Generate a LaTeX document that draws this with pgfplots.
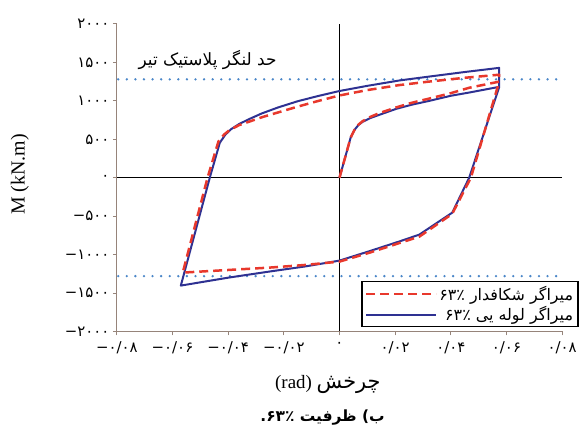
\documentclass[border=0pt]{standalone}
\usepackage{fontspec}
\usepackage{pgfplots}
\pgfplotsset{compat=1.18}
\setmainfont{Liberation Serif}
\newfontfamily\persfont[Script=Arabic]{DejaVu Sans}
\newfontfamily\digfont{DejaVu Sans}
\TeXXeTstate=1
\definecolor{bluel}{RGB}{46,49,146}
\definecolor{redl}{RGB}{232,56,44}
\definecolor{dotb}{RGB}{74,134,200}
\definecolor{spine}{RGB}{150,132,122}
\begin{document}
\begin{tikzpicture}
\begin{axis}[
  scale only axis, width=446bp, height=308bp,
  xmin=-0.08, xmax=0.08, ymin=-2000, ymax=2000,
  scaled x ticks=false, scaled y ticks=false,
  axis lines*=left,
  axis line style={spine, line width=1bp},
  tick style={spine, line width=1bp},
  tick align=outside, major tick length=4bp,
  xtick={-0.08,-0.06,-0.04,-0.02,0,0.02,0.04,0.06,0.08},
  xticklabels={−۰/۰۸,−۰/۰۶,−۰/۰۴,−۰/۰۲,۰,۰/۰۲,۰/۰۴,۰/۰۶,۰/۰۸},
  ytick={-2000,-1500,-1000,-500,0,500,1000,1500,2000},
  yticklabels={−۲۰۰۰,−۱۵۰۰,−۱۰۰۰,−۵۰۰,۰,۵۰۰,۱۰۰۰,۱۵۰۰,۲۰۰۰},
  xticklabel style={font=\digfont\fontsize{15}{17}\selectfont, yshift=-3bp},
  yticklabel style={font=\digfont\fontsize{15}{17}\selectfont},
  xlabel={(rad) {\persfont\fontsize{21}{23}\selectfont چرخش}},
  xlabel style={font=\fontsize{19}{21}\selectfont, at={(axis description cs:0.474,-0.172)}, anchor=center},
  ylabel={M (kN.m)},
  ylabel style={font=\fontsize{20}{22}\selectfont, at={(axis description cs:-0.2175,0.51)}, anchor=center},
  clip=false,
  reverse legend,
  legend style={at={(axis description cs:1.037,0.013)}, anchor=south east,
    draw=black, line width=1.2bp, fill=white, inner xsep=3bp, inner ysep=2.5bp,
    font=\persfont\fontsize{16}{18}\selectfont, row sep=1bp},
  legend cell align=right,
  legend image code/.code={\draw[#1] (0bp,0bp) -- (70bp,0bp);},
]
% zero lines
\addplot[black, line width=1.5bp, forget plot] coordinates {(-0.08,0) (0.08,0)};
\addplot[black, line width=1.5bp, forget plot] coordinates {(0,-2000) (0,2000)};
% plastic moment limits
\addplot[dotb, line width=2.6bp, line cap=round, dash pattern=on 0bp off 8.6bp, forget plot] coordinates {(-0.0795,1280) (0.078,1280)};
\addplot[dotb, line width=2.6bp, line cap=round, dash pattern=on 0bp off 8.6bp, forget plot] coordinates {(-0.0795,-1280) (0.078,-1280)};
% blue: pipe damper
\addplot[bluel, line width=2bp, line join=round] coordinates {
(0,0) (0.0018,234) (0.0040,520) (0.0054,623) (0.0068,685) (0.0083,727)
(0.0110,775) (0.0143,818) (0.0204,896) (0.0260,950) (0.0323,1000)
(0.0400,1066) (0.0466,1108) (0.0574,1182)
(0.0466,0) (0.0405,-455) (0.0287,-740) (0.0215,-829) (0.0108,-955) (0,-1078)
(-0.0125,-1155) (-0.0251,-1220) (-0.040,-1300) (-0.057,-1403)
(-0.0466,0) (-0.0430,455) (-0.0410,560) (-0.0390,630) (-0.0360,700)
(-0.0320,770) (-0.0280,835) (-0.0220,915) (-0.0150,995) (-0.0080,1060)
(0,1128) (0.0100,1195) (0.0215,1265) (0.0323,1316)
(0.0450,1375) (0.0574,1429) (0.0574,1182)
};
\addlegendentry{\beginR میراگر لوله یی ۶۳٪\endR}
% red: slit damper
\addplot[redl, line width=2.5bp, dash pattern=on 9bp off 5bp, line join=round] coordinates {
(0,0) (0.0018,234) (0.0040,520) (0.0054,623) (0.0068,690) (0.0083,735)
(0.0110,790) (0.0143,840) (0.0204,915) (0.0260,975) (0.0323,1030)
(0.0400,1100) (0.0466,1170) (0.0574,1250)
(0.0472,0) (0.0405,-470) (0.0287,-766) (0.0215,-850) (0.0108,-975) (0,-1091)
(-0.0125,-1135) (-0.0251,-1169) (-0.040,-1200) (-0.0563,-1234)
(-0.0474,0) (-0.0435,470) (-0.0415,560) (-0.0395,620) (-0.0360,685)
(-0.0320,735) (-0.0276,790) (-0.0220,850) (-0.0150,925) (-0.0080,995)
(0,1070) (0.0100,1140) (0.0215,1205) (0.0323,1251)
(0.0450,1300) (0.0574,1340) (0.0574,1250)
};
\addlegendentry{\beginR میراگر شکافدار ۶۳٪\endR}
\node[font=\persfont\fontsize{17}{19}\selectfont, anchor=center] at (axis cs:-0.0474,1532) {\beginR حد لنگر پلاستیک تیر\endR};
\node[font=\persfont\bfseries\fontsize{15.5}{18}\selectfont, anchor=center] at (axis description cs:0.462,-0.279) {\beginR ب) ظرفیت ۶۳٪.\endR};
\path (rel axis cs:0,0) ++(-117bp,-96bp) rectangle ++(580bp,428bp);
\end{axis}
\end{tikzpicture}
\end{document}
